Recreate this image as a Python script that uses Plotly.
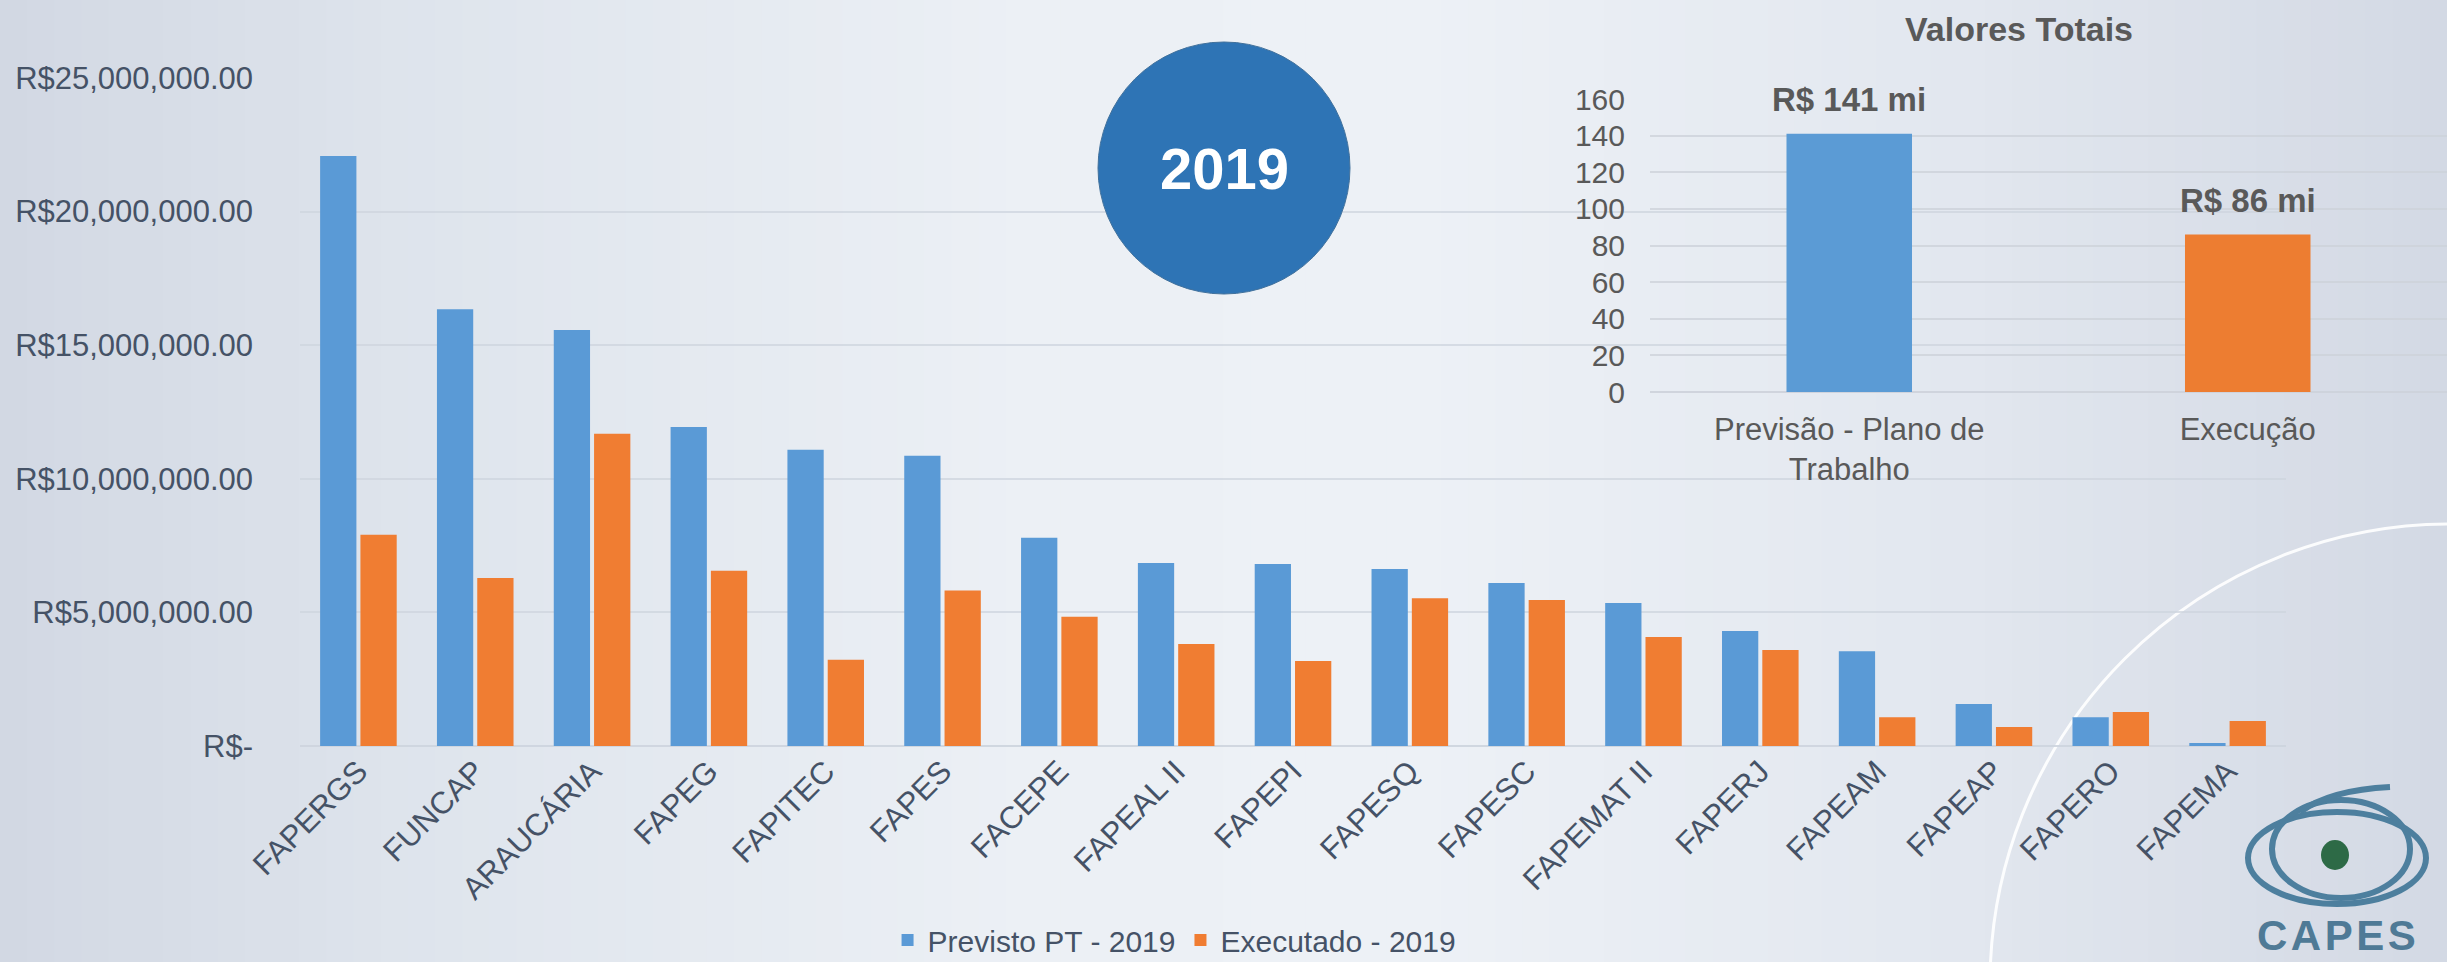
import plotly.graph_objects as go

# ---------------- data ----------------
categories = ["FAPERGS", "FUNCAP", "ARAUCÁRIA", "FAPEG", "FAPITEC", "FAPES", "FACEPE",
              "FAPEAL II", "FAPEPI", "FAPESQ", "FAPESC", "FAPEMAT II", "FAPERJ",
              "FAPEAM", "FAPEAP", "FAPERO", "FAPEMA"]
previsto = [22.08e6, 16.35e6, 15.57e6, 11.94e6, 11.09e6, 10.86e6, 7.79e6, 6.85e6,
            6.81e6, 6.62e6, 6.10e6, 5.35e6, 4.30e6, 3.55e6, 1.57e6, 1.08e6, 0.11e6]
executado = [7.91e6, 6.29e6, 11.69e6, 6.56e6, 3.23e6, 5.82e6, 4.84e6, 3.82e6,
             3.18e6, 5.53e6, 5.46e6, 4.08e6, 3.59e6, 1.08e6, 0.71e6, 1.27e6, 0.94e6]
series_names = ["Previsto PT - 2019", "Executado - 2019"]

y_tickvals = [0, 5e6, 10e6, 15e6, 20e6, 25e6]
y_ticktext = ["R$-", "R$5,000,000.00", "R$10,000,000.00", "R$15,000,000.00",
              "R$20,000,000.00", "R$25,000,000.00"]

total_categories = ["Previsão - Plano de<br>Trabalho", "Execução"]
totals = [141, 86]
total_labels = ["R$ 141 mi", "R$ 86 mi"]
inset_tickvals = [0, 20, 40, 60, 80, 100, 120, 140, 160]

# ---------------- layout helpers ----------------
W, H = 2447, 962
def px(x):
    return x / W
def py(y):
    return 1 - y / H

FONT = "Liberation Sans, Arial, sans-serif"
SLATE = "#455266"
GRAY = "#595959"
BLUE = "#5a9ad6"
ORANGE = "#f07d32"

fig = go.Figure()

fig.add_trace(go.Bar(x=categories, y=previsto, name=series_names[0],
                     marker=dict(color=BLUE, line=dict(width=0)),
                     xaxis="x", yaxis="y"))
fig.add_trace(go.Bar(x=categories, y=executado, name=series_names[1],
                     marker=dict(color=ORANGE, line=dict(width=0)),
                     xaxis="x", yaxis="y"))
fig.add_trace(go.Bar(x=total_categories, y=totals, width=0.315,
                     marker=dict(color=["#5b9bd5", "#ed7d31"], line=dict(width=0)),
                     showlegend=False, xaxis="x2", yaxis="y2"))

# ---------------- background shapes ----------------
shapes = []
stops = [(0.0, (210, 216, 227)), (0.18, (223, 229, 237)), (0.42, (236, 240, 245)),
         (0.58, (237, 241, 246)), (0.8, (226, 231, 239)), (1.0, (211, 217, 228))]
def interp(t):
    for (t0, c0), (t1, c1) in zip(stops[:-1], stops[1:]):
        if t0 <= t <= t1:
            f = (t - t0) / (t1 - t0)
            return tuple(int(round(a + (b - a) * f)) for a, b in zip(c0, c1))
    return stops[-1][1]
N = 90
for i in range(N):
    t = (i + 0.5) / N
    c = interp(t)
    shapes.append(dict(type="rect", xref="paper", yref="paper",
                       x0=i / N, x1=(i + 1) / N + 0.002, y0=-0.01, y1=1.01,
                       fillcolor="rgb(%d,%d,%d)" % c, line=dict(width=0), layer="below"))
# white decorative arc
shapes.append(dict(type="circle", xref="paper", yref="paper",
                   x0=px(1990), x1=px(2910), y0=py(1444), y1=py(524),
                   line=dict(color="rgba(255,255,255,0.9)", width=3), layer="below"))
# 2019 circle
shapes.append(dict(type="circle", xref="paper", yref="paper",
                   x0=px(1098), x1=px(1350), y0=py(294), y1=py(42),
                   fillcolor="#2e74b5", line=dict(color="#41719c", width=1), layer="above"))
# CAPES logo
LOGO = "#4d7f9e"
shapes.append(dict(type="circle", xref="paper", yref="paper",
                   x0=px(2248), x1=px(2426), y0=py(904), y1=py(812),
                   line=dict(color=LOGO, width=6), layer="above"))
shapes.append(dict(type="circle", xref="paper", yref="paper",
                   x0=px(2272), x1=px(2410), y0=py(898), y1=py(800),
                   line=dict(color=LOGO, width=6), layer="above"))
shapes.append(dict(type="path", xref="paper", yref="paper",
                   path="M %f,%f Q %f,%f %f,%f" % (px(2300), py(812), px(2330), py(790),
                                                   px(2390), py(787)),
                   line=dict(color=LOGO, width=6), layer="above"))
shapes.append(dict(type="circle", xref="paper", yref="paper",
                   x0=px(2321), x1=px(2349), y0=py(870), y1=py(840),
                   fillcolor="#2d6a46", line=dict(width=0), layer="above"))

annotations = [
    dict(text="<b>2019</b>", x=px(1224), y=py(168), xref="paper", yref="paper",
         showarrow=False, font=dict(family=FONT, size=58, color="white"),
         xanchor="center", yanchor="middle"),
    dict(text="<b>Valores Totais</b>", x=px(2019), y=py(29), xref="paper", yref="paper",
         showarrow=False, font=dict(family=FONT, size=34, color=GRAY),
         xanchor="center", yanchor="middle"),
    dict(text="<b>C\u200aA\u200aP\u200aE\u200aS</b>", x=px(2336), y=py(935), xref="paper", yref="paper",
         showarrow=False, font=dict(family=FONT, size=42, color="#4f7a96"),
         xanchor="center", yanchor="middle"),
]
for cat, val, lab in zip(total_categories, totals, total_labels):
    annotations.append(dict(text="<b>%s</b>" % lab, x=cat, y=val, xref="x2", yref="y2",
                            showarrow=False, yanchor="bottom", yshift=14,
                            font=dict(family=FONT, size=33, color=GRAY)))

fig.update_layout(
    template="none",
    width=W, height=H,
    margin=dict(l=0, r=0, t=0, b=0, autoexpand=False),
    paper_bgcolor="#e3e8ef",
    plot_bgcolor="rgba(0,0,0,0)",
    barmode="group", bargap=0.31, bargroupgap=0.1,
    font=dict(family=FONT, color=SLATE),
    shapes=shapes,
    annotations=annotations,
    showlegend=True,
    legend=dict(orientation="h", xref="container", yref="container",
                x=0.48, y=py(940), xanchor="center", yanchor="middle",
                bgcolor="rgba(0,0,0,0)", font=dict(family=FONT, size=30, color=SLATE),
                itemwidth=30),
    xaxis=dict(domain=[px(300), px(2286)], anchor="y", type="category",
               tickangle=-45, tickfont=dict(family=FONT, size=31, color=SLATE),
               showgrid=False, showline=False, zeroline=False, ticks="",
               automargin=False, fixedrange=True),
    yaxis=dict(domain=[py(746), py(78)], anchor="x", range=[0, 25e6],
               tickvals=y_tickvals, ticktext=y_ticktext,
               tickfont=dict(family=FONT, size=31, color=SLATE),
               showgrid=True, gridcolor="rgba(205,212,222,0.75)", gridwidth=2,
               zeroline=True, zerolinecolor="rgba(205,212,222,0.9)", zerolinewidth=2,
               showline=False, ticks="", ticklabelstandoff=46, automargin=False),
    xaxis2=dict(domain=[px(1650), 1.0], anchor="y2", type="category",
                tickfont=dict(family=FONT, size=31, color=GRAY),
                showgrid=False, showline=False, zeroline=False, ticks="",
                ticklabelstandoff=16, automargin=False),
    yaxis2=dict(domain=[py(392), py(99)], anchor="x2", range=[0, 160],
                tickvals=inset_tickvals,
                tickfont=dict(family=FONT, size=30, color=GRAY),
                showgrid=True, gridcolor="rgba(205,210,218,0.8)", gridwidth=2,
                zeroline=True, zerolinecolor="rgba(205,210,218,0.9)", zerolinewidth=2,
                showline=False, ticks="", ticklabelstandoff=24, automargin=False),
)

fig.write_html("out.html", config={"displayModeBar": False},
               post_script="document.body.style.margin='0';document.body.style.overflow='hidden';")
